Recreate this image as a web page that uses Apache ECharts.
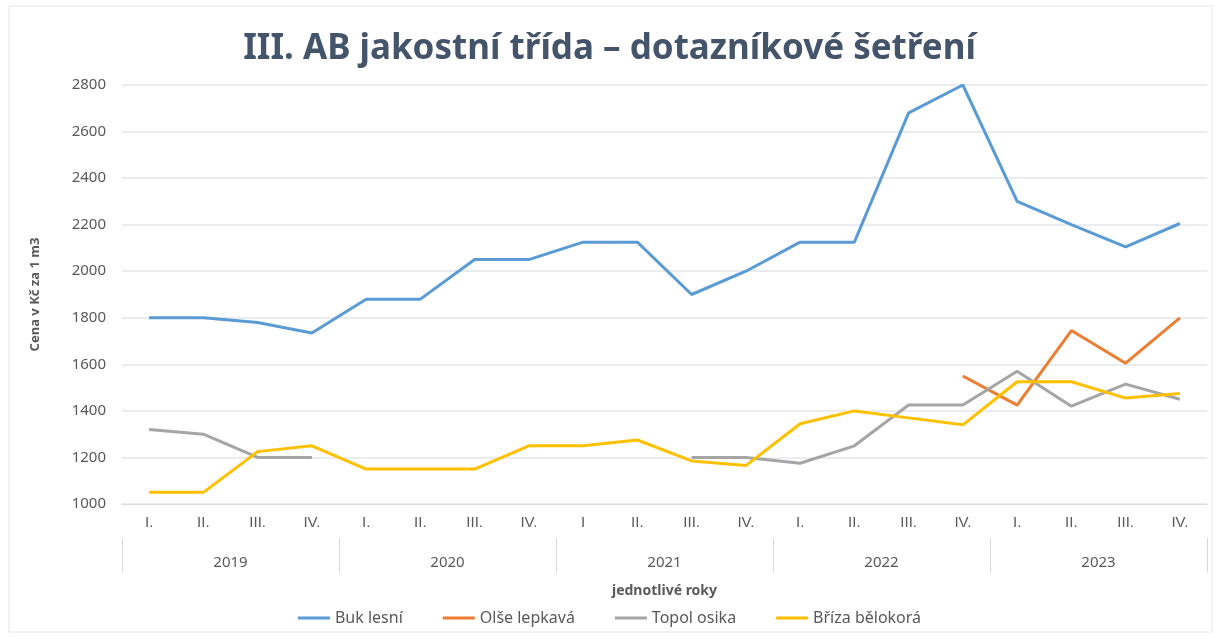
<!DOCTYPE html>
<html>
<head>
<meta charset="utf-8">
<script src="https://cdn.jsdelivr.net/npm/echarts@6/dist/echarts.min.js"></script>
<style>
  html, body { margin: 0; padding: 0; background: #fff; }
  #chart { width: 1219px; height: 639px; }
</style>
</head>
<body>
<div id="chart"></div>
<script>
// kvartaly a roky
const quarters = ['I.', 'II.', 'III.', 'IV.', 'I.', 'II.', 'III.', 'IV.', 'I', 'II.', 'III.', 'IV.',
  'I.', 'II.', 'III.', 'IV.', 'I.', 'II.', 'III.', 'IV.'];
const years = ['2019', '2020', '2021', '2022', '2023'];

// ceny v Kč za 1 m3
const bukLesni = [1800, 1800, 1780, 1735, 1880, 1880, 2050, 2050, 2125, 2125,
  1900, 2000, 2125, 2125, 2680, 2800, 2300, 2200, 2105, 2205];
const olseLepkava = [null, null, null, null, null, null, null, null, null, null,
  null, null, null, null, null, 1550, 1425, 1745, 1605, 1800];
const topolOsika = [1320, 1300, 1200, 1200, null, null, null, null, null, null,
  1200, 1200, 1175, 1250, 1425, 1425, 1570, 1420, 1515, 1450];
const brizaBelokora = [1050, 1050, 1225, 1250, 1150, 1150, 1150, 1250, 1250, 1275,
  1185, 1165, 1345, 1400, 1370, 1340, 1525, 1525, 1455, 1475];

const FONT = 'Noto Sans';
const LABEL_FONT = 'Liberation Sans';
const GREY = '#595959';
const LINE = '#d9d9d9';

const chart = echarts.init(document.getElementById('chart'));

const mkSeries = (name, data, color) => ({
  name,
  type: 'line',
  data,
  symbol: 'none',
  connectNulls: false,
  lineStyle: { width: 3, color },
  itemStyle: { color },
});

chart.setOption({
  animation: false,
  textStyle: { fontFamily: FONT },
  title: {
    text: 'III. AB jakostní třída – dotazníkové šetření',
    left: 'center',
    top: 27,
    textStyle: { fontSize: 35, fontWeight: 'bold', color: '#44546A', fontFamily: FONT },
  },
  graphic: [{
    type: 'rect',
    shape: { x: 9, y: 6, width: 1203, height: 626 },
    style: { fill: 'none', stroke: '#e3e6ea', lineWidth: 1 },
    silent: true,
  }],
  legend: {
    bottom: 8,
    left: 'center',
    itemWidth: 32,
    itemHeight: 3,
    itemGap: 40,
    icon: 'rect',
    textStyle: { fontSize: 16, color: GREY, fontFamily: FONT },
    data: ['Buk lesní', 'Olše lepkavá', 'Topol osika', 'Bříza bělokorá'],
  },
  grid: { left: 122, right: 12, top: 85, bottom: 135 },
  xAxis: [
    {
      type: 'category',
      data: quarters,
      boundaryGap: true,
      axisLine: { lineStyle: { color: LINE } },
      axisTick: { length: 34, interval: 0, lineStyle: { color: LINE } },
      axisLabel: { interval: 0, margin: 11, fontSize: 15, color: GREY, fontFamily: LABEL_FONT },
    },
    {
      type: 'category',
      data: years,
      position: 'bottom',
      offset: 34,
      boundaryGap: true,
      axisLine: { show: false },
      axisTick: { show: true, length: 35, interval: 0, lineStyle: { color: LINE } },
      axisLabel: { interval: 0, margin: 17, fontSize: 15, color: GREY, fontFamily: FONT },
      name: 'jednotlivé roky',
      nameLocation: 'middle',
      nameGap: 46,
      nameTextStyle: { fontSize: 14, fontWeight: 'bold', color: GREY, fontFamily: FONT },
    },
  ],
  yAxis: {
    type: 'value',
    min: 1000,
    max: 2800,
    interval: 200,
    name: 'Cena v Kč za 1 m3',
    nameLocation: 'middle',
    nameGap: 80,
    nameTextStyle: { fontSize: 13, fontWeight: 'bold', color: GREY, fontFamily: FONT },
    axisLabel: { fontSize: 15, color: GREY, margin: 16, fontFamily: FONT, formatter: (v) => String(v) },
    axisLine: { show: false },
    axisTick: { show: false },
    splitLine: { lineStyle: { color: '#e3e6ea', width: 1.5 } },
  },
  series: [
    mkSeries('Buk lesní', bukLesni, '#5B9BD5'),
    mkSeries('Olše lepkavá', olseLepkava, '#ED7D31'),
    mkSeries('Topol osika', topolOsika, '#A5A5A5'),
    mkSeries('Bříza bělokorá', brizaBelokora, '#FFC000'),
  ],
});
</script>
</body>
</html>
